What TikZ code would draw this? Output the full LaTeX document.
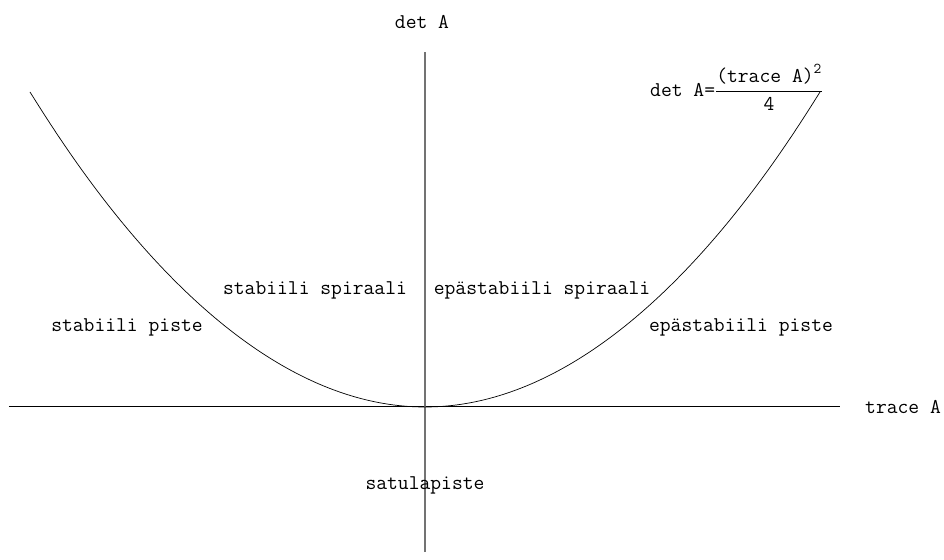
\documentclass[tikz,border=0pt]{standalone}
\usepackage{fontspec}
\usepackage{tikz}
\usetikzlibrary{positioning}

\begin{document}
\begin{tikzpicture}[x=1pt,y=1pt,
    lbl/.style={inner sep=0pt,font=\ttfamily\fontsize{21}{25}\selectfont}]
    \useasboundingbox (-425,-152) rectangle (519,407);
    % Axes
    \coordinate (xs) at (-416,0);
    \coordinate (xe) at (415,0);
    \coordinate (ys) at (0,-145);
    \coordinate (ye) at (0,355);
    \draw[line width=1pt] (xs) -- (xe);
    \draw[black!55,line width=1.2pt] (ys) -- (ye);
    \node[lbl,right=25pt of xe] (tr) {trace A};
    \node[lbl] (det) at (-3,385) {det A};
    % Curve det A = (trace A)^2/4
    \coordinate (cl) at (-395,315);
    \coordinate (o) at (0,0);
    \coordinate (cr) at (395,315);
    \draw[line width=0.7pt] (cl) parabola bend (o) (cr);
    \node[lbl,anchor=west] (eq) at (225,320)
        {det A=$\displaystyle\frac{\mbox{(trace A)}^{\mbox{\ttfamily\fontsize{15}{17}\selectfont 2}}}{\mbox{4}}$};
    % Regions
    \node[lbl] (sp) at (-298,80) {stabiili piste};
    \node[lbl] (ss) at (-110,117) {stabiili spiraali};
    \node[lbl] (es) at (117,117) {epästabiili spiraali};
    \node[lbl] (ep) at (316,80) {epästabiili piste};
    \node[lbl] (sat) at (0,-78) {satulapiste};
\end{tikzpicture}
\end{document}
